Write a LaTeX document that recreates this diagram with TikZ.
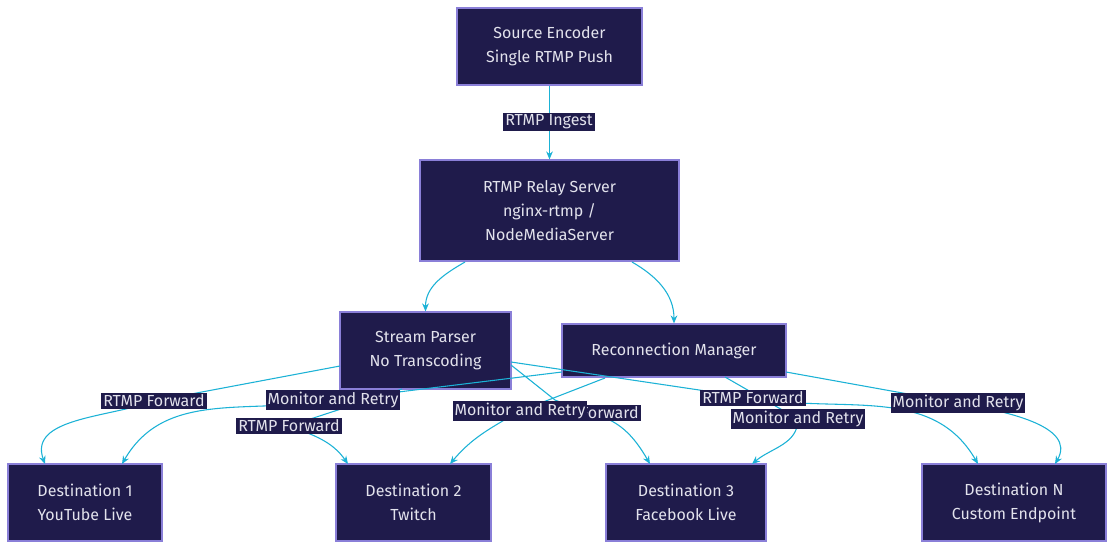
\documentclass[tikz,border=0pt]{standalone}
\usepackage{fontspec}
\setmainfont{Fira Sans}
\usetikzlibrary{arrows.meta}
\definecolor{nf}{HTML}{1F1B4B}
\definecolor{nb}{HTML}{8A7FD8}
\definecolor{ec}{HTML}{1BB2D6}
\definecolor{tc}{HTML}{E2E2EC}
\begin{document}
\begin{tikzpicture}[x=0.75pt,y=-0.75pt,
 box/.style={draw=nb,line width=0.9pt,fill=nf,text=tc,align=center,font=\fontsize{12}{18}\selectfont,inner sep=0pt},
 lab/.style={fill=nf,text=tc,font=\fontsize{12}{14}\selectfont,inner sep=1.5pt},
 e/.style={draw=ec,line width=0.8pt},
 a/.style={e,-{Stealth[length=6pt,width=5pt]}}]
\useasboundingbox[fill=white] (0,0) rectangle (1115,550);
\node[box,minimum width=138.75pt,minimum height=57.75pt] (src) at (549.5,46.5) {Source Encoder\\Single RTMP Push};
\node[box,minimum width=194.25pt,minimum height=75.75pt] (relay) at (549.5,210.5) {RTMP Relay Server\\nginx-rtmp /\\NodeMediaServer};
\node[box,minimum width=128.25pt,minimum height=57.75pt] (parser) at (425.5,350.5) {Stream Parser\\No Transcoding};
\node[box,minimum width=168pt,minimum height=39.75pt] (recon) at (674,350.5) {Reconnection Manager};
\node[box,minimum width=115.5pt,minimum height=57.75pt] (d1) at (85,502.5) {Destination 1\\YouTube Live};
\node[box,minimum width=116.25pt,minimum height=57.75pt] (d2) at (413.5,502.5) {Destination 2\\Twitch};
\node[box,minimum width=120pt,minimum height=57.75pt] (d3) at (686,502.5) {Destination 3\\Facebook Live};
\node[box,minimum width=138pt,minimum height=57.75pt] (dN) at (1014,502.5) {Destination N\\Custom Endpoint};
% label anchor points
\coordinate (p1) at (154,401); \coordinate (p2) at (289,426); \coordinate (p3) at (588,413); \coordinate (p4) at (753,398);
\coordinate (r1) at (333,400); \coordinate (r2) at (520,411); \coordinate (r3) at (798,419); \coordinate (r4) at (958,403);
% edges
\draw[a] (src) -- (relay);
\draw[a] (465,262) to[out=-150,in=90] (parser.north);
\draw[a] (632,262) to[out=-30,in=90] (recon.north);
\draw[e] (340,366) -- (p1); \draw[a] (p1) to[out=-160,in=110] (45,464);
\draw[e] (402,389) -- (p2); \draw[a] (p2) to[out=-20,in=125] (348,464);
\draw[e] (511,365) -- (555,400) -- (p3); \draw[a] (p3) to[out=-10,in=120] (650,464);
\draw[e] (511,362) -- (p4); \draw[a] (p4) to[out=-10,in=120] (978,464);
\draw[e] (562,372) -- (r1); \draw[a] (r1) to[out=-170,in=60] (122,464);
\draw[e] (605,378) -- (r2); \draw[a] (r2) to[out=-150,in=50] (450,464);
\draw[e] (725,377) -- (r3); \draw[a] (r3) to[out=-90,in=40] (752,464);
\draw[e] (786,372) -- (r4); \draw[a] (r4) to[out=-10,in=60] (1055,464);
% labels
\node[lab] at (549,122) {RTMP Ingest};
\node[lab] at (p1) {RTMP Forward};
\node[lab] at (p2) {RTMP Forward};
\node[lab] at (p3) {RTMP Forward};
\node[lab] at (p4) {RTMP Forward};
\node[lab] at (r1) {Monitor and Retry};
\node[lab] at (r2) {Monitor and Retry};
\node[lab] at (r3) {Monitor and Retry};
\node[lab] at (r4) {Monitor and Retry};
\end{tikzpicture}
\end{document}
